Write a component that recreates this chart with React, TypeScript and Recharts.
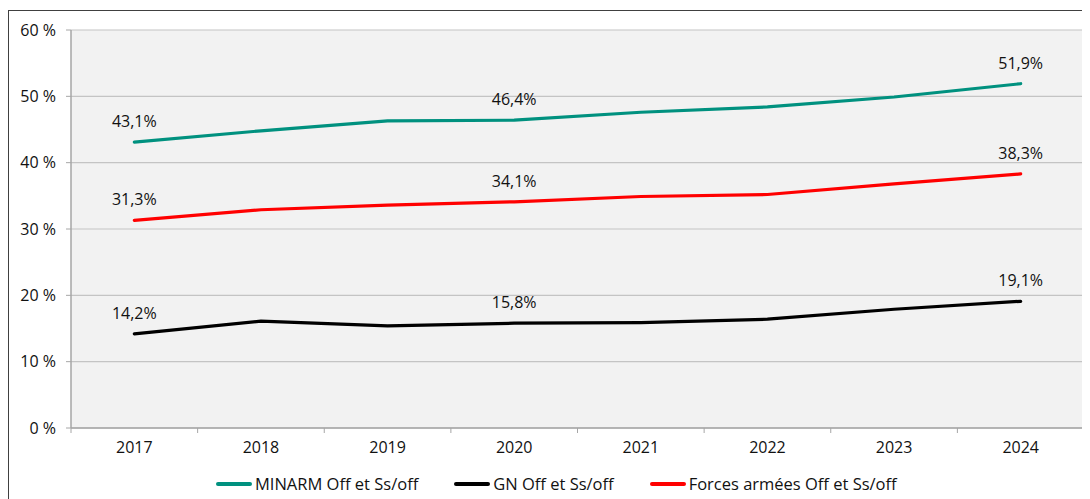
import React from 'react';
import {
    LineChart,
    Line,
    XAxis,
    YAxis,
    CartesianGrid,
    LabelList
} from 'recharts';

const years = ['2017', '2018', '2019', '2020', '2021', '2022', '2023', '2024'];
const minarm = [43.1, 44.8, 46.3, 46.4, 47.6, 48.4, 49.9, 51.9];
const gn = [14.2, 16.1, 15.4, 15.8, 15.9, 16.4, 17.9, 19.1];
const forces = [31.3, 32.9, 33.6, 34.1, 34.9, 35.2, 36.8, 38.3];
const yTicks = [0, 10, 20, 30, 40, 50, 60];
const labelledIdx = [0, 3, 7];

const series = [
    { key: 'minarm', name: 'MINARM Off et Ss/off', color: '#00917F', values: minarm },
    { key: 'gn', name: 'GN Off et Ss/off', color: '#000000', values: gn },
    { key: 'forces', name: 'Forces armées Off et Ss/off', color: '#FF0000', values: forces }
];

const data = years.map((year, i) => ({
    year,
    minarm: minarm[i],
    gn: gn[i],
    forces: forces[i]
}));

const FONT = '"Open Sans", sans-serif';
const CHART_W = 1100;
const CHART_H = 488;
const MARGIN = { top: 19, right: 25, left: 0, bottom: 41 };
const Y_W = 62;
const BAND = (CHART_W - MARGIN.left - MARGIN.right - Y_W) / years.length;

const frDecimal = (v: number) => v.toFixed(1).replace('.', ',') + '%';

// Excel-style category axis: label centered, tick marks on category boundaries
const YearTick = ({ x, y, payload, index }: any) => {
    const left = x - BAND / 2;
    return (
        <g>
            <line x1={left} y1={y - 8} x2={left} y2={y - 3} stroke="#a6a6a6" />
            {index === years.length - 1 && (
                <line x1={left + BAND} y1={y - 8} x2={left + BAND} y2={y - 3} stroke="#a6a6a6" />
            )}
            <text x={x} y={y + 17} textAnchor="middle" fill="#111" fontSize={16} fontFamily={FONT}>
                {payload.value}
            </text>
        </g>
    );
};

const PointLabel = ({ x, y, value, index }: any) => {
    if (!labelledIdx.includes(index)) return null;
    return (
        <text x={x} y={y - 15} textAnchor="middle" fill="#111" fontSize={16} fontFamily={FONT}>
            {frDecimal(value)}
        </text>
    );
};

export default function App() {
    return (
        <div
            style={{
                position: 'relative',
                marginTop: 2,
                width: CHART_W,
                height: CHART_H,
                border: '1px solid #404040',
                background: '#fff',
                fontFamily: FONT
            }}
        >
            <LineChart width={CHART_W} height={CHART_H} data={data} margin={MARGIN}>
                <CartesianGrid
                    vertical={false}
                    stroke="#c4c4c4"
                    strokeWidth={1.2}
                    fill="#F2F2F2"
                />
                <XAxis
                    dataKey="year"
                    axisLine={{ stroke: '#a6a6a6', strokeWidth: 1.5 }}
                    tickLine={false}
                    tick={<YearTick />}
                    height={30}
                    interval={0}
                    padding={{ left: BAND / 2, right: BAND / 2 }}
                />
                <YAxis
                    domain={[0, 60]}
                    ticks={yTicks}
                    width={Y_W}
                    axisLine={{ stroke: '#a6a6a6', strokeWidth: 1.5 }}
                    tickLine={{ stroke: '#a6a6a6' }}
                    tickSize={5}
                    tickMargin={10}
                    tickFormatter={(v: number) => `${v} %`}
                    tick={{ fill: '#111', fontSize: 16, fontFamily: FONT }}
                />
                {series.map(s => (
                    <Line
                        key={s.key}
                        type="linear"
                        dataKey={s.key}
                        name={s.name}
                        stroke={s.color}
                        strokeWidth={3.2}
                        strokeLinejoin="round"
                        strokeLinecap="round"
                        dot={false}
                        activeDot={false}
                        isAnimationActive={false}
                    >
                        <LabelList dataKey={s.key} content={<PointLabel />} />
                    </Line>
                ))}
            </LineChart>

            {/* legend */}
            <div
                style={{
                    position: 'absolute',
                    top: 461,
                    left: 207,
                    display: 'flex',
                    alignItems: 'center',
                    fontSize: 16.5,
                    color: '#111'
                }}
            >
                {series.map((s, i) => (
                    <div
                        key={s.key}
                        style={{ display: 'flex', alignItems: 'center', marginLeft: i === 0 ? 0 : 36 }}
                    >
                        <span
                            style={{
                                display: 'inline-block',
                                width: 36,
                                height: 4,
                                borderRadius: 2,
                                background: s.color,
                                marginRight: 3
                            }}
                        />
                        <span>{s.name}</span>
                    </div>
                ))}
            </div>
        </div>
    );
}
